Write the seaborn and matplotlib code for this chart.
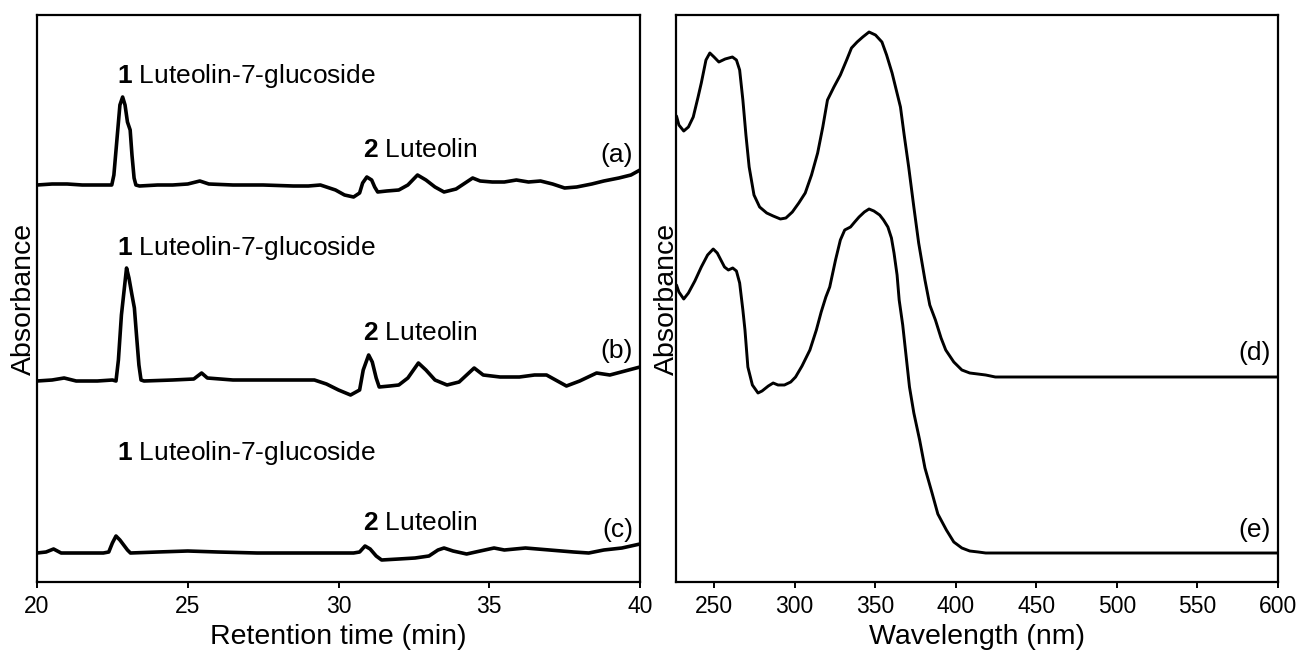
import matplotlib
matplotlib.use("Agg")
import matplotlib.pyplot as plt
import seaborn as sns
import pandas as pd

# ---- HPLC chromatograms (retention time in min, signal in arbitrary units, offset per trace)
time_a = [20.0, 20.5, 21.0, 21.5, 22.0, 22.48, 22.55, 22.65, 22.75, 22.84, 22.92, 23.0, 23.09,
          23.15, 23.22, 23.28, 23.4, 24.0, 24.5, 25.0, 25.4, 25.7, 26.5, 27.5, 28.5, 29.0, 29.4,
          29.9, 30.2, 30.5, 30.7, 30.8, 30.94, 31.1, 31.2, 31.3, 31.6, 32.0, 32.3, 32.62, 32.9,
          33.2, 33.5, 33.9, 34.2, 34.45, 34.7, 35.1, 35.5, 35.9, 36.3, 36.7, 37.1, 37.5, 37.9,
          38.4, 38.8, 39.3, 39.7, 40.0]
signal_a = [397, 398, 398, 397, 397, 397, 407, 442, 477, 485, 477, 460, 452,
            427, 404, 397, 396, 397, 397, 398, 401, 398, 397, 397, 396, 396, 397,
            392, 387, 385, 389, 399, 405, 402, 395, 390, 391, 392, 397, 407, 402,
            395, 390, 393, 399, 404, 401, 400, 400, 402, 400, 401, 398, 394, 395,
            398, 401, 404, 407, 412]

time_b = [20.0, 20.5, 20.9, 21.3, 22.0, 22.5, 22.62, 22.7, 22.8, 22.97, 23.05, 23.15, 23.23,
          23.3, 23.38, 23.45, 23.55, 24.5, 25.2, 25.46, 25.65, 26.5, 27.5, 28.5, 29.2, 29.6,
          30.0, 30.4, 30.7, 30.82, 31.0, 31.12, 31.25, 31.35, 31.7, 32.0, 32.3, 32.65, 32.9,
          33.2, 33.6, 34.0, 34.25, 34.5, 34.8, 35.36, 36.0, 36.5, 36.9, 37.2, 37.56, 38.0,
          38.56, 39.0, 39.5, 40.0]
signal_b = [201, 202, 204, 201, 201, 202, 201, 222, 267, 314, 304, 287, 274,
            247, 217, 202, 201, 202, 203, 209, 204, 202, 202, 202, 202, 198,
            192, 187, 192, 212, 227, 220, 204, 195, 196, 197, 204, 219, 212,
            202, 197, 200, 207, 214, 207, 205, 205, 207, 207, 202, 196, 201,
            209, 207, 211, 215]

time_c = [20.0, 20.3, 20.55, 20.8, 21.5, 22.2, 22.38, 22.5, 22.62, 22.75, 22.85, 23.0, 23.1,
          24.0, 25.0, 26.0, 27.3, 28.5, 29.5, 30.5, 30.7, 30.88, 31.05, 31.25, 31.43, 32.0,
          32.54, 33.0, 33.3, 33.5, 33.8, 34.25, 34.7, 35.16, 35.5, 36.2, 37.0, 37.8, 38.3,
          38.8, 39.4, 40.0]
signal_c = [29, 30, 33, 29, 29, 29, 30, 39, 46, 42, 38, 32, 29,
            30, 31, 30, 29, 29, 29, 29, 30, 36, 33, 26, 22, 23,
            24, 26, 32, 34, 31, 28, 31, 34, 32, 34, 32, 30, 29,
            32, 34, 38]

# ---- UV-Vis spectra (wavelength in nm, absorbance in arbitrary units, offset per trace)
wl_d = [226.7, 228.2, 231.2, 234.1, 237.1, 240.1, 242.1, 245.0, 247.4, 250.0, 253.0, 256.9,
        261.4, 263.9, 265.9, 267.9, 269.8, 271.8, 274.8, 278.3, 282.7, 286.7, 291.2, 294.6,
        298.6, 302.6, 306.6, 310.5, 314.3, 317.5, 320.4, 324.4, 328.4, 332.3, 335.3, 338.8,
        342.3, 346.2, 350.2, 354.2, 357.1, 360.5, 363.1, 365.7, 368.0, 370.8, 374.0, 377.0,
        380.9, 383.9, 387.4, 390.9, 393.8, 398.8, 403.8, 408.7, 413.7, 418.6, 424.6, 600.0]
abs_d = [466, 457, 451, 455, 465, 485, 499, 522, 529, 525, 520, 523,
         525, 522, 512, 482, 447, 415, 387, 375, 369, 366, 363, 364,
         370, 379, 389, 407, 429, 455, 482, 495, 507, 522, 534, 540,
         545, 550, 547, 540, 527, 509, 492, 475, 447, 415, 375, 339,
         302, 277, 262, 244, 232, 220, 212, 209, 208, 207, 205, 205]

wl_e = [226.7, 228.2, 231.2, 234.1, 238.1, 242.1, 246.0, 249.5, 252.0, 256.5, 258.9, 261.6,
        263.9, 265.9, 267.9, 269.2, 271.0, 273.8, 277.3, 279.8, 283.7, 286.7, 289.7, 293.7,
        297.6, 300.6, 304.6, 309.5, 313.5, 316.5, 319.4, 321.8, 325.4, 328.4, 331.1, 334.7,
        337.3, 340.0, 343.3, 346.2, 349.2, 352.8, 355.2, 357.9, 360.1, 361.7, 363.6, 364.9,
        367.1, 371.3, 374.0, 377.6, 380.9, 385.3, 388.9, 394.2, 398.8, 403.8, 408.7, 414.0,
        418.6, 426.6, 600.0]
abs_e = [297, 290, 283, 289, 301, 315, 327, 333, 329, 315, 312, 314,
         311, 299, 272, 252, 215, 197, 189, 191, 196, 199, 197, 197,
         200, 205, 216, 232, 252, 270, 285, 295, 322, 342, 352, 355,
         360, 365, 370, 373, 371, 367, 362, 355, 344, 329, 307, 282,
         257, 195, 169, 142, 114, 89, 68, 52, 40, 34, 31, 30,
         29, 29, 29]

peak1_label = "Luteolin-7-glucoside"
peak2_label = "Luteolin"
chrom_tags = ["(a)", "(b)", "(c)"]
spec_tags = ["(d)", "(e)"]
chrom_ticks = [20, 25, 30, 35, 40]
spec_ticks = [250, 300, 350, 400, 450, 500, 550, 600]

sns.set_theme(style="ticks")
plt.rcParams["font.family"] = ["Liberation Sans", "DejaVu Sans"]
plt.rcParams["mathtext.fontset"] = "custom"
plt.rcParams["mathtext.rm"] = "Liberation Sans"
plt.rcParams["mathtext.bf"] = "Liberation Sans:bold"

fig = plt.figure(figsize=(12.99, 6.53), dpi=100)
fig.patch.set_facecolor("white")
ax1 = fig.add_axes([37 / 1299, 71 / 653, 603 / 1299, 567 / 653])
ax2 = fig.add_axes([676 / 1299, 71 / 653, 602 / 1299, 567 / 653])

chrom = pd.concat([
    pd.DataFrame({"time": time_a, "signal": signal_a, "run": "a"}),
    pd.DataFrame({"time": time_b, "signal": signal_b, "run": "b"}),
    pd.DataFrame({"time": time_c, "signal": signal_c, "run": "c"}),
])
spec = pd.concat([
    pd.DataFrame({"wl": wl_d, "A": abs_d, "run": "d"}),
    pd.DataFrame({"wl": wl_e, "A": abs_e, "run": "e"}),
])

sns.lineplot(data=chrom, x="time", y="signal", units="run", estimator=None,
             color="black", linewidth=2.6, ax=ax1, legend=False)
sns.lineplot(data=spec, x="wl", y="A", units="run", estimator=None,
             color="black", linewidth=2.1, ax=ax2, legend=False)

ax1.set_xlim(20, 40)
ax2.set_xlim(226.4, 600)
for ax in (ax1, ax2):
    ax.set_ylim(0, 567)
    ax.set_facecolor("white")
    ax.grid(False)
    ax.set_yticks([])
    for sp in ax.spines.values():
        sp.set_visible(True)
        sp.set_color("black")
        sp.set_linewidth(1.6)
    ax.tick_params(axis="x", direction="out", length=4.5, width=1.4, color="black",
                   labelsize=16.5, pad=5, labelcolor="black")

ax1.set_xticks(chrom_ticks)
ax2.set_xticks(spec_ticks)

ax1.set_xlabel("Retention time (min)", fontsize=20.5, color="black", labelpad=4.5)
ax2.set_xlabel("Wavelength (nm)", fontsize=20.5, color="black", labelpad=4.5)
ax1.set_ylabel("Absorbance", fontsize=20.5, color="black", labelpad=0)
ax2.set_ylabel("Absorbance", fontsize=20.5, color="black", labelpad=-2.5)

# peak annotations on the chromatograms
label1_y = [498.7, 327, 122]
label2_y = [425.3, 242, 52]
tag_y = [419.7, 223.7, 45.3]
for y1, y2, ty, tag in zip(label1_y, label2_y, tag_y, chrom_tags):
    ax1.text(22.64, y1, r"$\mathbf{1}$ " + peak1_label, fontsize=19, ha="left",
             va="baseline", color="black")
    ax1.text(30.8, y2, r"$\mathbf{2}$ " + peak2_label, fontsize=19, ha="left",
             va="baseline", color="black")
    ax1.text(39.77, ty, tag, fontsize=19, ha="right", va="baseline", color="black")

for ty, tag in zip([222, 44.7], spec_tags):
    ax2.text(595.5, ty, tag, fontsize=19, ha="right", va="baseline", color="black")

fig.savefig("out.png", dpi=100, facecolor="white")
